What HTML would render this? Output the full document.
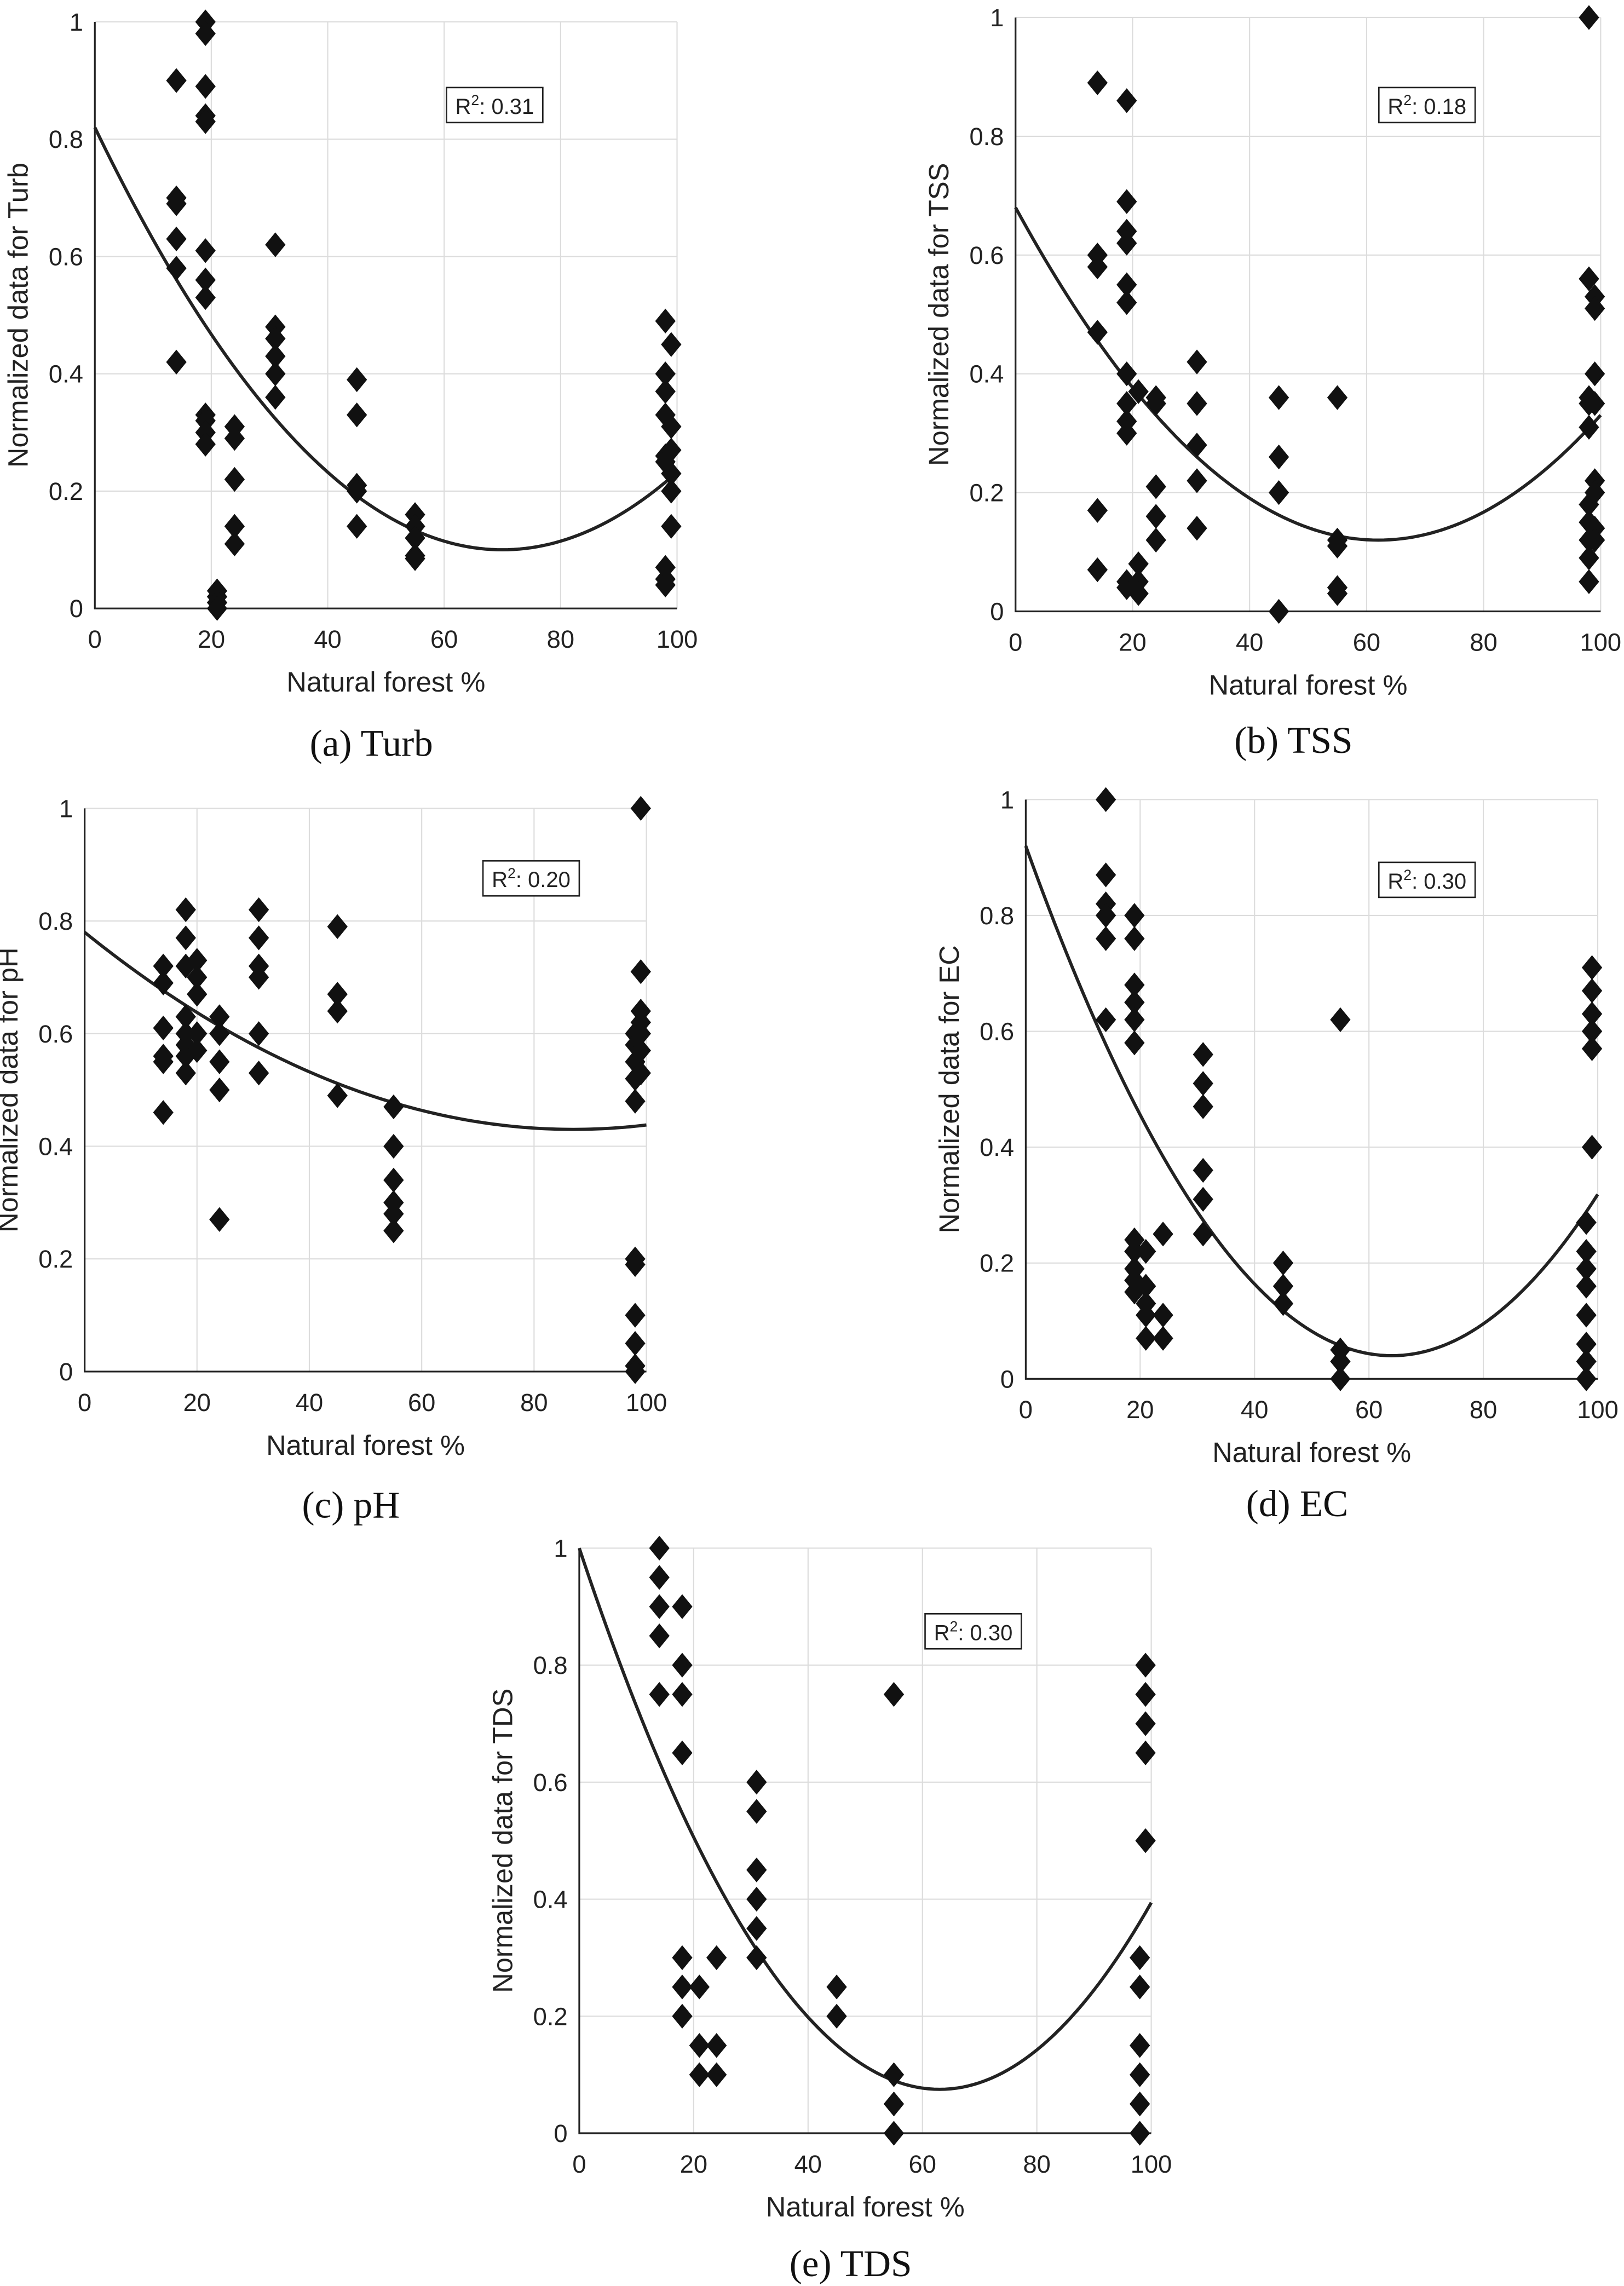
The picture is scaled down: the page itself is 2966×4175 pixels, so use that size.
<!DOCTYPE html>
<html><head><meta charset="utf-8">
<style>
html,body{margin:0;padding:0;background:#fff;}
svg{display:block;}
</style></head>
<body>
<svg id="fig" xmlns="http://www.w3.org/2000/svg" width="2966" height="4175" viewBox="0 0 1113 1566.7"></svg>
<script>
// ---- Data ----
const turbX=[14,14,14,14,14,14,19,19,19,19,19,19,19,19,19,19,19,19,21,21,21,21,24,24,24,24,24,31,31,31,31,31,31,45,45,45,45,45,55,55,55,55,55,98,98,98,98,98,98,98,98,98,99,99,99,99,99,99];
const turbY=[0.90,0.70,0.69,0.63,0.58,0.42,1.0,0.98,0.89,0.84,0.83,0.61,0.56,0.53,0.33,0.32,0.30,0.28,0.03,0.02,0.01,0.0,0.31,0.29,0.22,0.14,0.11,0.62,0.48,0.46,0.43,0.40,0.36,0.39,0.33,0.21,0.20,0.14,0.16,0.14,0.12,0.09,0.085,0.49,0.40,0.37,0.33,0.26,0.25,0.07,0.05,0.04,0.45,0.31,0.27,0.23,0.20,0.14];
const tssX=[14,14,14,14,14,14,19,19,19,19,19,19,19,19,19,19,19,19,21,21,21,21,24,24,24,24,24,31,31,31,31,31,45,45,45,45,55,55,55,55,55,98,98,98,98,98,98,98,98,98,98,99,99,99,99,99,99,99,99];
const tssY=[0.89,0.60,0.58,0.47,0.17,0.07,0.86,0.69,0.64,0.62,0.55,0.52,0.40,0.35,0.32,0.30,0.05,0.04,0.37,0.08,0.05,0.03,0.36,0.35,0.21,0.16,0.12,0.42,0.35,0.28,0.22,0.14,0.36,0.26,0.20,0.0,0.36,0.12,0.11,0.04,0.03,1.0,0.56,0.36,0.35,0.31,0.18,0.15,0.12,0.09,0.05,0.53,0.51,0.40,0.35,0.22,0.20,0.14,0.12];
const phX=[14,14,14,14,14,14,18,18,18,18,18,18,18,18,20,20,20,20,20,24,24,24,24,24,31,31,31,31,31,31,45,45,45,45,55,55,55,55,55,55,98,98,98,98,98,98,98,98,98,98,98,99,99,99,99,99,99,99];
const phY=[0.72,0.69,0.61,0.56,0.55,0.46,0.82,0.77,0.72,0.63,0.60,0.58,0.56,0.53,0.73,0.70,0.67,0.60,0.57,0.63,0.60,0.55,0.50,0.27,0.82,0.77,0.72,0.70,0.60,0.53,0.79,0.67,0.64,0.49,0.47,0.40,0.34,0.30,0.28,0.25,0.20,0.19,0.10,0.05,0.01,0.0,0.60,0.58,0.55,0.52,0.48,1.0,0.71,0.64,0.62,0.60,0.57,0.53];
const ecX=[14,14,14,14,14,14,19,19,19,19,19,19,19,19,19,19,19,21,21,21,21,21,24,24,24,31,31,31,31,31,31,45,45,45,55,55,55,55,98,98,98,98,98,98,98,98,99,99,99,99,99,99];
const ecY=[1.0,0.87,0.82,0.80,0.76,0.62,0.80,0.76,0.68,0.65,0.62,0.58,0.24,0.22,0.19,0.17,0.15,0.22,0.16,0.13,0.11,0.07,0.25,0.11,0.07,0.56,0.51,0.47,0.36,0.31,0.25,0.20,0.16,0.13,0.62,0.05,0.03,0.0,0.27,0.22,0.19,0.16,0.11,0.06,0.03,0.0,0.71,0.67,0.63,0.60,0.57,0.40];
const tdsX=[14,14,14,14,14,18,18,18,18,18,18,18,21,21,21,24,24,24,31,31,31,31,31,31,45,45,55,55,55,55,98,98,98,98,98,98,99,99,99,99,99];
const tdsY=[1.0,0.95,0.90,0.85,0.75,0.90,0.80,0.75,0.65,0.30,0.25,0.20,0.25,0.15,0.10,0.30,0.15,0.10,0.60,0.55,0.45,0.40,0.35,0.30,0.25,0.20,0.75,0.10,0.05,0.0,0.30,0.25,0.15,0.10,0.05,0.0,0.80,0.75,0.70,0.65,0.50];
// quadratic fit: [intercept at x=0, vertex x, vertex y]
const turbFit=[0.82,70,0.10];
const tssFit=[0.68,62,0.12];
const phFit=[0.78,87,0.43];
const ecFit=[0.92,64,0.04];
const tdsFit=[1.0,63,0.075];
const r2Labels=["0.31","0.18","0.20","0.30","0.30"];
const xTicks=[0,20,40,60,80,100];
const yTicks=[0,0.2,0.4,0.6,0.8,1];
const yTickLabels=["0","0.2","0.4","0.6","0.8","1"];

const NS="http://www.w3.org/2000/svg";
const svg=document.getElementById('fig');
function el(tag,attrs,parent){const e=document.createElementNS(NS,tag);for(const k in attrs)e.setAttribute(k,attrs[k]);(parent||svg).appendChild(e);return e;}

const panels=[
 {id:'turb',xs:turbX,ys:turbY,fit:turbFit,r2:r2Labels[0],ylab:'Normalized data for Turb',cap:'(a) Turb',x0:65,x1:464,yTop:15,yBot:417,bx:306,by:60,capOff:101},
 {id:'tss',xs:tssX,ys:tssY,fit:tssFit,r2:r2Labels[1],ylab:'Normalized data for TSS',cap:'(b) TSS',x0:696,x1:1097,yTop:12,yBot:419,bx:945,by:60,capOff:97},
 {id:'ph',xs:phX,ys:phY,fit:phFit,r2:r2Labels[2],ylab:'Normalized data for pH',cap:'(c) pH',x0:58,x1:443,yTop:554,yBot:940,bx:331,by:590,capOff:100},
 {id:'ec',xs:ecX,ys:ecY,fit:ecFit,r2:r2Labels[3],ylab:'Normalized data for EC',cap:'(d) EC',x0:703,x1:1095,yTop:548,yBot:945,bx:945,by:591,capOff:94},
 {id:'tds',xs:tdsX,ys:tdsY,fit:tdsFit,r2:r2Labels[4],ylab:'Normalized data for TDS',cap:'(e) TDS',x0:397,x1:789,yTop:1061,yBot:1462,bx:634,by:1106,capOff:98}
];

panels.forEach(p=>{
  const g=el('g',{});
  
  
  const sx=v=>p.x0+(p.x1-p.x0)*v/100;
  const sy=v=>p.yBot-(p.yBot-p.yTop)*v;
  xTicks.forEach(t=>{const l=el('line',{x1:sx(t),x2:sx(t),y1:p.yTop,y2:p.yBot,stroke:'#dcdcdc','stroke-width':0.8},g);
    });
  yTicks.forEach(t=>{const l=el('line',{x1:p.x0,x2:p.x1,y1:sy(t),y2:sy(t),stroke:'#dcdcdc','stroke-width':0.8},g);
    });
  const ax=el('path',{d:`M${p.x0},${p.yTop}V${p.yBot}H${p.x1}`,fill:'none',stroke:'#222','stroke-width':1.2},g);
  
  xTicks.forEach(t=>{const tx=el('text',{x:sx(t),y:p.yBot+27,'text-anchor':'middle','font-size':17,fill:'#222','font-family':'Liberation Sans, sans-serif'},g);tx.textContent=t;
    });
  yTicks.forEach((t,i)=>{const tx=el('text',{x:p.x0-8,y:sy(t)+6,'text-anchor':'end','font-size':17,fill:'#222','font-family':'Liberation Sans, sans-serif'},g);tx.textContent=yTickLabels[i];
    });
  const xt=el('text',{x:(p.x0+p.x1)/2,y:p.yBot+57,'text-anchor':'middle','font-size':19,fill:'#222','font-family':'Liberation Sans, sans-serif'},g);xt.textContent='Natural forest %';
  
  const yc=(p.yTop+p.yBot)/2, yx=p.x0-46;
  const yt=el('text',{x:yx,y:yc,'text-anchor':'middle','font-size':19,fill:'#222','font-family':'Liberation Sans, sans-serif',transform:`rotate(-90 ${yx} ${yc})`},g);yt.textContent=p.ylab;
  
  const cp=el('text',{x:(p.x0+p.x1)/2-10,y:p.yBot+p.capOff,'text-anchor':'middle','font-size':26,fill:'#111','font-family':'Liberation Serif, serif'},g);cp.textContent=p.cap;
  
  const [c0,vx,vy]=p.fit; const a=(c0-vy)/(vx*vx);
  let d='';
  for(let x=0;x<=100;x+=1){const y=a*(x-vx)*(x-vx)+vy;d+=(x?'L':'M')+sx(x).toFixed(2)+','+sy(y).toFixed(2);}
  const cv=el('path',{d:d,fill:'none',stroke:'#222','stroke-width':2.2},g);
  
  p.xs.forEach((xv,i)=>{const cx=sx(xv),cy=sy(p.ys[i]);
    const m=el('path',{d:`M${cx},${cy-8.5}L${cx+7},${cy}L${cx},${cy+8.5}L${cx-7},${cy}Z`,fill:'#111'},g);
    });
  const bw=66,bh=24;
  const r=el('rect',{x:p.bx,y:p.by,width:bw,height:bh,fill:'#fff',stroke:'#222','stroke-width':1},g);
  
  const rt=el('text',{x:p.bx+bw/2,y:p.by+18,'text-anchor':'middle','font-size':15,fill:'#222','font-family':'Liberation Sans, sans-serif'},g);
  
  rt.innerHTML='R<tspan dy="-6" font-size="10">2</tspan><tspan dy="6">: '+p.r2+'</tspan>';
});
</script>
</body></html>
